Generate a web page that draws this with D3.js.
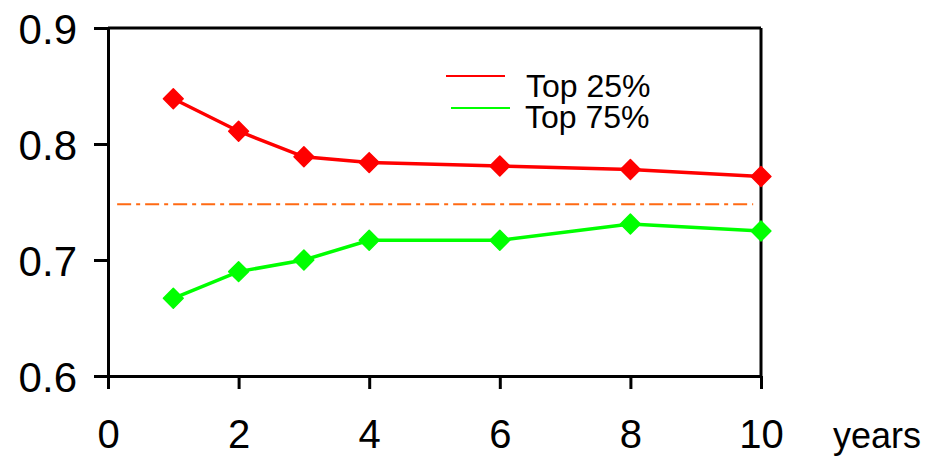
<!DOCTYPE html>
<html>
<head>
<meta charset="utf-8">
<script src="https://cdn.jsdelivr.net/npm/d3@7/dist/d3.min.js"></script>
<style>
  html, body { margin: 0; padding: 0; background: #fff; }
  svg { display: block; }
  text { font-family: "Liberation Sans", Arial, sans-serif; fill: #000; }
</style>
</head>
<body>
<svg id="chart" width="940" height="457"></svg>
<script>
// Horizon in years and the two accuracy series
const years = [1, 2, 3, 4, 6, 8, 10];
const top25 = [0.839, 0.811, 0.789, 0.784, 0.781, 0.778, 0.772];
const top75 = [0.667, 0.690, 0.700, 0.717, 0.717, 0.731, 0.725];

// Reference level drawn as a dash-dot line, with its x extent
const refLevel = 0.748;
const refSpan = [0.14, 9.88];

// Axis ticks
const xTicks = [0, 2, 4, 6, 8, 10];
const yTicks = [0.6, 0.7, 0.8, 0.9];

const seriesNames = ["Top 25%", "Top 75%"];
const seriesColors = ["#ff0000", "#00ff00"];

const svg = d3.select("#chart");
const plot = { left: 108, right: 761, top: 28, bottom: 376 };

const x = d3.scaleLinear().domain([0, 10]).range([plot.left, plot.right]);
const y = d3.scaleLinear().domain([0.6, 0.9]).range([plot.bottom, plot.top]);

// Frame around the plot area
const frame = svg.append("g").attr("stroke", "#000").attr("stroke-width", 3).attr("fill", "none");
frame.append("line").attr("x1", x(0)).attr("x2", x(10)).attr("y1", y(0.9)).attr("y2", y(0.9));
frame.append("line").attr("x1", x(10)).attr("x2", x(10)).attr("y1", y(0.9)).attr("y2", y(0.6));

// Axes
const xAxis = d3.axisBottom(x).tickValues(xTicks).tickFormat(d3.format("d"))
  .tickSizeInner(13).tickSizeOuter(0).tickPadding(31);
const yAxis = d3.axisLeft(y).tickValues(yTicks).tickFormat(d3.format(".1f"))
  .tickSizeInner(14).tickSizeOuter(0).tickPadding(17);

const gx = svg.append("g").attr("transform", `translate(0,${plot.bottom})`).call(xAxis);
const gy = svg.append("g").attr("transform", `translate(${plot.left},0)`).call(yAxis);

[gx, gy].forEach(g => {
  g.select(".domain").attr("stroke", "#000").attr("stroke-width", 3);
  g.selectAll(".tick line").attr("stroke", "#000").attr("stroke-width", 3);
  g.selectAll(".tick text").attr("font-family", "Liberation Sans, Arial, sans-serif").attr("fill", "#000");
});
gy.selectAll(".tick text").attr("font-size", 42).attr("dy", "0.36em");
gx.selectAll(".tick text").attr("font-size", 40).attr("dy", "0.71em");

svg.append("text").attr("x", 833).attr("y", 448).attr("font-size", 36).text("years");

// Reference dash-dot line
svg.append("line")
  .attr("x1", x(refSpan[0])).attr("x2", x(refSpan[1]))
  .attr("y1", y(refLevel)).attr("y2", y(refLevel))
  .attr("stroke", "#ff6a13").attr("stroke-width", 2)
  .attr("stroke-dasharray", "14,5,4,5");

// Series lines with diamond markers
const line = d3.line().x(d => x(d[0])).y(d => y(d[1]));
const diamond = d3.symbol().type(d3.symbolDiamond2).size(250);

[top25, top75].forEach((vals, i) => {
  const pts = years.map((yr, j) => [yr, vals[j]]);
  svg.append("path").datum(pts)
    .attr("d", line).attr("fill", "none")
    .attr("stroke", seriesColors[i]).attr("stroke-width", 3.5);
  svg.append("g").selectAll("path").data(pts).join("path")
    .attr("transform", d => `translate(${x(d[0])},${y(d[1])})`)
    .attr("d", diamond)
    .attr("fill", seriesColors[i])
    .attr("stroke", seriesColors[i]).attr("stroke-width", 1.5).attr("stroke-linejoin", "round");
});

// Legend
const legend = [
  { x1: 446, x2: 505, ly: 76, tx: 526, ty: 97 },
  { x1: 451, x2: 510, ly: 108, tx: 525, ty: 128 }
];
legend.forEach((l, i) => {
  svg.append("line").attr("x1", l.x1).attr("x2", l.x2).attr("y1", l.ly).attr("y2", l.ly)
    .attr("stroke", seriesColors[i]).attr("stroke-width", 2);
  svg.append("text").attr("x", l.tx).attr("y", l.ty).attr("font-size", 32).text(seriesNames[i]);
});
</script>
</body>
</html>
